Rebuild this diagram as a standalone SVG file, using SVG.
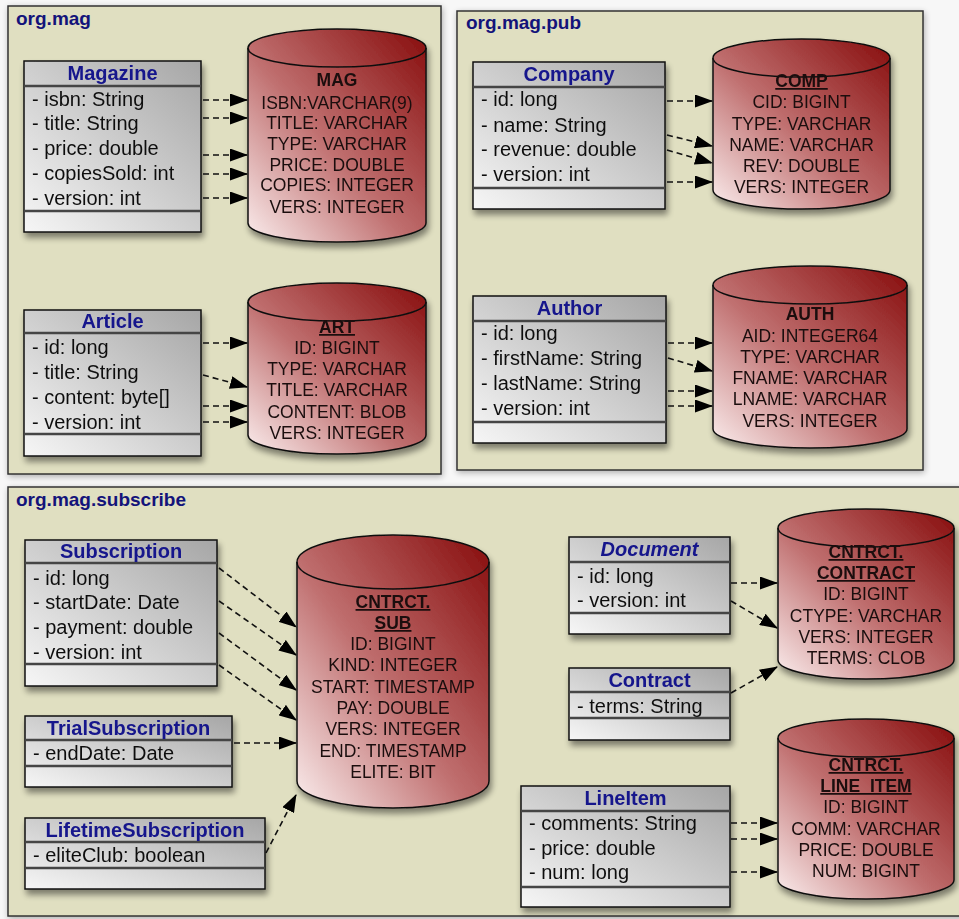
<svg xmlns="http://www.w3.org/2000/svg" width="959" height="919" viewBox="0 0 959 919">
<defs>
<linearGradient id="gCls" x1="1" y1="0" x2="0" y2="1">
<stop offset="0" stop-color="#a6a6a6"/>
<stop offset="1" stop-color="#f6f6f6"/>
</linearGradient>
<linearGradient id="gDb" x1="1" y1="0" x2="0" y2="1">
<stop offset="0" stop-color="#870c0c"/>
<stop offset="0.55" stop-color="#c07070"/>
<stop offset="1" stop-color="#fbeeee"/>
</linearGradient>
<filter id="sh" x="-10%" y="-10%" width="130%" height="130%">
<feGaussianBlur in="SourceAlpha" stdDeviation="3"/>
<feOffset dx="2" dy="5" result="b"/>
<feComponentTransfer><feFuncA type="linear" slope="0.45"/></feComponentTransfer>
<feMerge><feMergeNode/><feMergeNode in="SourceGraphic"/></feMerge>
</filter>
<filter id="psh" x="-5%" y="-5%" width="110%" height="110%">
<feGaussianBlur in="SourceAlpha" stdDeviation="3"/>
<feOffset dx="1" dy="2" result="b"/>
<feComponentTransfer><feFuncA type="linear" slope="0.3"/></feComponentTransfer>
<feMerge><feMergeNode/><feMergeNode in="SourceGraphic"/></feMerge>
</filter>
<marker id="ah" markerUnits="userSpaceOnUse" markerWidth="18" markerHeight="13" refX="17" refY="6.5" orient="auto">
<path d="M0,0 L18,6.5 L0,13 Z" fill="#000"/>
</marker>
</defs>
<style>
.pkg{fill:#e0dfc1;stroke:#333;stroke-width:1.5}
.plbl{font-family:"Liberation Sans",Arial,sans-serif;font-weight:bold;font-size:19px;fill:#13137a}
.box{fill:url(#gCls);stroke:#111;stroke-width:1.5}
.sep{stroke:#444;stroke-width:2.5}
.hd{font-family:"Liberation Sans",Arial,sans-serif;font-weight:bold;font-size:20px;fill:#14148c;text-anchor:middle}
.it{font-style:italic}
.at{font-family:"Liberation Sans",Arial,sans-serif;font-size:20px;fill:#111}
.cyl{fill:url(#gDb);stroke:#111;stroke-width:1.5}
.cap{fill:none;stroke:#111;stroke-width:1.5}
.ct{font-family:"Liberation Sans",Arial,sans-serif;font-size:17.5px;fill:#1a0f0f;text-anchor:middle}
.tt{font-weight:bold}
.u{text-decoration:underline}
.cn line{stroke:#111;stroke-width:1.6;stroke-dasharray:6,4;marker-end:url(#ah)}
</style>
<rect width="959" height="919" fill="#f7f7f7"/>

<g id="pkg-org-mag">
<rect class="pkg" x="8" y="6" width="433" height="468" filter="url(#psh)"/>
<text class="plbl" x="16" y="25">org.mag</text>
</g>
<g id="pkg-org-mag-pub">
<rect class="pkg" x="457" y="11" width="466" height="459" filter="url(#psh)"/>
<text class="plbl" x="466" y="29">org.mag.pub</text>
</g>
<g id="pkg-org-mag-subscribe">
<rect class="pkg" x="8" y="487" width="965" height="429" filter="url(#psh)"/>
<text class="plbl" x="16" y="506">org.mag.subscribe</text>
</g>

<g id="Magazine" filter="url(#sh)">
<rect class="box" x="24" y="61" width="177" height="171"/>
<line class="sep" x1="24" y1="86" x2="201" y2="86"/>
<line class="sep" x1="24" y1="211" x2="201" y2="211"/>
<text class="hd" x="112.5" y="80">Magazine</text>
<text class="at" x="32" y="106">- isbn: String</text>
<text class="at" x="32" y="130">- title: String</text>
<text class="at" x="32" y="155">- price: double</text>
<text class="at" x="32" y="180">- copiesSold: int</text>
<text class="at" x="32" y="205">- version: int</text>
</g>

<g id="Article" filter="url(#sh)">
<rect class="box" x="24" y="310" width="177" height="146"/>
<line class="sep" x1="24" y1="333" x2="201" y2="333"/>
<line class="sep" x1="24" y1="434" x2="201" y2="434"/>
<text class="hd" x="112.5" y="328">Article</text>
<text class="at" x="32" y="354">- id: long</text>
<text class="at" x="32" y="379">- title: String</text>
<text class="at" x="32" y="404">- content: byte[]</text>
<text class="at" x="32" y="429">- version: int</text>
</g>

<g id="Company" filter="url(#sh)">
<rect class="box" x="473" y="62" width="192" height="147"/>
<line class="sep" x1="473" y1="87" x2="665" y2="87"/>
<line class="sep" x1="473" y1="188" x2="665" y2="188"/>
<text class="hd" x="569" y="81">Company</text>
<text class="at" x="481" y="106">- id: long</text>
<text class="at" x="481" y="132">- name: String</text>
<text class="at" x="481" y="156">- revenue: double</text>
<text class="at" x="481" y="181">- version: int</text>
</g>

<g id="Author" filter="url(#sh)">
<rect class="box" x="473" y="296" width="193" height="147"/>
<line class="sep" x1="473" y1="321" x2="666" y2="321"/>
<line class="sep" x1="473" y1="422" x2="666" y2="422"/>
<text class="hd" x="569.5" y="315">Author</text>
<text class="at" x="481" y="340">- id: long</text>
<text class="at" x="481" y="365">- firstName: String</text>
<text class="at" x="481" y="390">- lastName: String</text>
<text class="at" x="481" y="415">- version: int</text>
</g>

<g id="Subscription" filter="url(#sh)">
<rect class="box" x="25" y="540" width="192" height="146"/>
<line class="sep" x1="25" y1="563" x2="217" y2="563"/>
<line class="sep" x1="25" y1="664" x2="217" y2="664"/>
<text class="hd" x="121" y="558">Subscription</text>
<text class="at" x="33" y="585">- id: long</text>
<text class="at" x="33" y="609">- startDate: Date</text>
<text class="at" x="33" y="634">- payment: double</text>
<text class="at" x="33" y="659">- version: int</text>
</g>

<g id="TrialSubscription" filter="url(#sh)">
<rect class="box" x="25" y="716" width="207" height="71"/>
<line class="sep" x1="25" y1="740" x2="232" y2="740"/>
<line class="sep" x1="25" y1="766" x2="232" y2="766"/>
<text class="hd" x="128.5" y="735">TrialSubscription</text>
<text class="at" x="33" y="760">- endDate: Date</text>
</g>

<g id="LifetimeSubscription" filter="url(#sh)">
<rect class="box" x="25" y="818" width="240" height="71"/>
<line class="sep" x1="25" y1="842" x2="265" y2="842"/>
<line class="sep" x1="25" y1="868" x2="265" y2="868"/>
<text class="hd" x="145" y="837">LifetimeSubscription</text>
<text class="at" x="33" y="862">- eliteClub: boolean</text>
</g>

<g id="Document" filter="url(#sh)">
<rect class="box" x="569" y="537" width="161" height="97"/>
<line class="sep" x1="569" y1="562" x2="730" y2="562"/>
<line class="sep" x1="569" y1="613" x2="730" y2="613"/>
<text class="hd it" x="649.5" y="556">Document</text>
<text class="at" x="577" y="583">- id: long</text>
<text class="at" x="577" y="607">- version: int</text>
</g>

<g id="Contract" filter="url(#sh)">
<rect class="box" x="569" y="668" width="161" height="72"/>
<line class="sep" x1="569" y1="692" x2="730" y2="692"/>
<line class="sep" x1="569" y1="718" x2="730" y2="718"/>
<text class="hd" x="649.5" y="687">Contract</text>
<text class="at" x="577" y="713">- terms: String</text>
</g>

<g id="LineItem" filter="url(#sh)">
<rect class="box" x="521" y="786" width="209" height="121"/>
<line class="sep" x1="521" y1="811" x2="730" y2="811"/>
<line class="sep" x1="521" y1="887" x2="730" y2="887"/>
<text class="hd" x="625.5" y="805">LineItem</text>
<text class="at" x="529" y="830">- comments: String</text>
<text class="at" x="529" y="855">- price: double</text>
<text class="at" x="529" y="879">- num: long</text>
</g>

<g id="MAG" filter="url(#sh)">
<path class="cyl" d="M248,48 L248,223 A89,19 0 0 0 426,223 L426,48 A89,19 0 0 0 248,48 Z"/>
<path class="cap" d="M248,48 A89,19 0 0 0 426,48"/>
<text class="ct tt" x="337" y="86">MAG</text>
<text class="ct" x="337" y="109">ISBN:VARCHAR(9)</text>
<text class="ct" x="337" y="129">TITLE: VARCHAR</text>
<text class="ct" x="337" y="150">TYPE: VARCHAR</text>
<text class="ct" x="337" y="171">PRICE: DOUBLE</text>
<text class="ct" x="337" y="191">COPIES: INTEGER</text>
<text class="ct" x="337" y="213">VERS: INTEGER</text>
</g>

<g id="ART" filter="url(#sh)">
<path class="cyl" d="M248,302 L248,435 A89,19 0 0 0 426,435 L426,302 A89,19 0 0 0 248,302 Z"/>
<path class="cap" d="M248,302 A89,19 0 0 0 426,302"/>
<text class="ct tt u" x="337" y="333">ART</text>
<text class="ct" x="337" y="354">ID: BIGINT</text>
<text class="ct" x="337" y="375">TYPE: VARCHAR</text>
<text class="ct" x="337" y="396">TITLE: VARCHAR</text>
<text class="ct" x="337" y="418">CONTENT: BLOB</text>
<text class="ct" x="337" y="439">VERS: INTEGER</text>
</g>

<g id="COMP" filter="url(#sh)">
<path class="cyl" d="M713,58 L713,190 A88.5,19 0 0 0 890,190 L890,58 A88.5,19 0 0 0 713,58 Z"/>
<path class="cap" d="M713,58 A88.5,19 0 0 0 890,58"/>
<text class="ct tt u" x="801.5" y="87">COMP</text>
<text class="ct" x="801.5" y="108">CID: BIGINT</text>
<text class="ct" x="801.5" y="130">TYPE: VARCHAR</text>
<text class="ct" x="801.5" y="151">NAME: VARCHAR</text>
<text class="ct" x="801.5" y="172">REV: DOUBLE</text>
<text class="ct" x="801.5" y="193">VERS: INTEGER</text>
</g>

<g id="AUTH" filter="url(#sh)">
<path class="cyl" d="M713,285 L713,429 A97,19 0 0 0 907,429 L907,285 A97,19 0 0 0 713,285 Z"/>
<path class="cap" d="M713,285 A97,19 0 0 0 907,285"/>
<text class="ct tt" x="810" y="320">AUTH</text>
<text class="ct" x="810" y="342">AID: INTEGER64</text>
<text class="ct" x="810" y="363">TYPE: VARCHAR</text>
<text class="ct" x="810" y="384">FNAME: VARCHAR</text>
<text class="ct" x="810" y="405">LNAME: VARCHAR</text>
<text class="ct" x="810" y="427">VERS: INTEGER</text>
</g>

<g id="SUB" filter="url(#sh)">
<path class="cyl" d="M297,562 L297,781 A96,27 0 0 0 489,781 L489,562 A96,27 0 0 0 297,562 Z"/>
<path class="cap" d="M297,562 A96,27 0 0 0 489,562"/>
<text class="ct tt u" x="393" y="608">CNTRCT.</text>
<text class="ct tt u" x="393" y="629">SUB</text>
<text class="ct" x="393" y="650">ID: BIGINT</text>
<text class="ct" x="393" y="671">KIND: INTEGER</text>
<text class="ct" x="393" y="693">START: TIMESTAMP</text>
<text class="ct" x="393" y="714">PAY: DOUBLE</text>
<text class="ct" x="393" y="735">VERS: INTEGER</text>
<text class="ct" x="393" y="757">END: TIMESTAMP</text>
<text class="ct" x="393" y="778">ELITE: BIT</text>
</g>

<g id="CONTRACT" filter="url(#sh)">
<path class="cyl" d="M778,528 L778,660 A88,19 0 0 0 954,660 L954,528 A88,19 0 0 0 778,528 Z"/>
<path class="cap" d="M778,528 A88,19 0 0 0 954,528"/>
<text class="ct tt u" x="866" y="558">CNTRCT.</text>
<text class="ct tt u" x="866" y="579">CONTRACT</text>
<text class="ct" x="866" y="600">ID: BIGINT</text>
<text class="ct" x="866" y="622">CTYPE: VARCHAR</text>
<text class="ct" x="866" y="643">VERS: INTEGER</text>
<text class="ct" x="866" y="664">TERMS: CLOB</text>
</g>

<g id="LINE_ITEM" filter="url(#sh)">
<path class="cyl" d="M778,738 L778,880 A88,19 0 0 0 954,880 L954,738 A88,19 0 0 0 778,738 Z"/>
<path class="cap" d="M778,738 A88,19 0 0 0 954,738"/>
<text class="ct tt u" x="866" y="771">CNTRCT.</text>
<text class="ct tt u" x="866" y="792">LINE_ITEM</text>
<text class="ct" x="866" y="813">ID: BIGINT</text>
<text class="ct" x="866" y="835">COMM: VARCHAR</text>
<text class="ct" x="866" y="856">PRICE: DOUBLE</text>
<text class="ct" x="866" y="877">NUM: BIGINT</text>
</g>

<g id="connectors" class="cn">
<line x1="203" y1="100" x2="247" y2="100"/>
<line x1="203" y1="118" x2="247" y2="118"/>
<line x1="203" y1="155" x2="247" y2="155"/>
<line x1="203" y1="174" x2="247" y2="174"/>
<line x1="203" y1="198" x2="247" y2="198"/>
<line x1="203" y1="343" x2="247" y2="343"/>
<line x1="203" y1="375" x2="247" y2="387"/>
<line x1="203" y1="406" x2="247" y2="406"/>
<line x1="203" y1="422" x2="247" y2="422"/>
<line x1="667" y1="101" x2="712" y2="101"/>
<line x1="667" y1="135" x2="712" y2="146"/>
<line x1="667" y1="150" x2="712" y2="163"/>
<line x1="667" y1="182" x2="712" y2="182"/>
<line x1="668" y1="343" x2="712" y2="343"/>
<line x1="668" y1="358" x2="712" y2="371"/>
<line x1="668" y1="391" x2="712" y2="391"/>
<line x1="668" y1="406" x2="712" y2="406"/>
<line x1="219" y1="568" x2="296" y2="627"/>
<line x1="219" y1="601" x2="296" y2="655"/>
<line x1="219" y1="633" x2="296" y2="690"/>
<line x1="219" y1="665" x2="296" y2="720"/>
<line x1="234" y1="743" x2="296" y2="743"/>
<line x1="266" y1="853" x2="296" y2="795"/>
<line x1="731" y1="583" x2="777" y2="583"/>
<line x1="731" y1="601" x2="777" y2="628"/>
<line x1="731" y1="693" x2="777" y2="667"/>
<line x1="731" y1="823" x2="777" y2="823"/>
<line x1="731" y1="839" x2="777" y2="839"/>
<line x1="731" y1="872" x2="777" y2="872"/>
</g>
</svg>
